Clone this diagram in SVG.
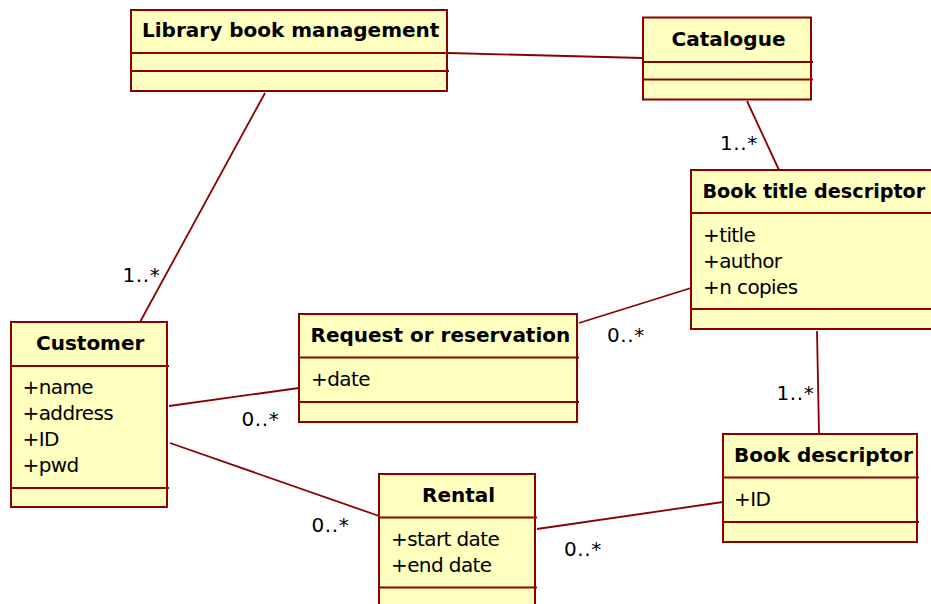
<svg xmlns="http://www.w3.org/2000/svg" width="931" height="604" viewBox="0 0 931 604">
<style>
.box{fill:#ffffc0;stroke:#880000;stroke-width:2}
.div{stroke:#880000;stroke-width:2;fill:none}
.conn line{stroke:#880000;stroke-width:1.8}
.t{font-family:"DejaVu Sans",Verdana,sans-serif;font-weight:bold;font-size:20px;fill:#000}
.a{font-family:"DejaVu Sans",Verdana,sans-serif;font-size:20px;letter-spacing:-0.6px;fill:#000}
.m{font-family:"DejaVu Sans",Verdana,sans-serif;font-size:20px;letter-spacing:0.6px;fill:#000}
</style>
<rect width="931" height="604" fill="#fff"/>
<g id="connectors" class="conn">
<line x1="449" y1="53" x2="643" y2="58"/>
<line x1="265" y1="93" x2="140" y2="322"/>
<line x1="747" y1="101" x2="779" y2="170"/>
<line x1="169" y1="406" x2="299" y2="388"/>
<line x1="579" y1="323" x2="691" y2="288"/>
<line x1="170" y1="443" x2="379" y2="516"/>
<line x1="537" y1="529" x2="723" y2="502"/>
<line x1="817" y1="331" x2="819" y2="434"/>
</g>
<g id="labels">
<text class="m" x="122.5" y="282">1..*</text>
<text class="m" x="720" y="150">1..*</text>
<text class="m" x="776.5" y="400">1..*</text>
<text class="m" x="241.5" y="426">0..*</text>
<text class="m" x="607" y="342">0..*</text>
<text class="m" x="311.5" y="532">0..*</text>
<text class="m" x="564" y="556">0..*</text>
</g>
<g id="library">
<rect class="box" x="131" y="10" width="316" height="81"/>
<line class="div" x1="131" y1="53" x2="449" y2="53"/>
<line class="div" x1="131" y1="71" x2="449" y2="71"/>
<text class="t" x="142" y="37">Library book management</text>
</g>
<g id="catalogue">
<rect class="box" x="643" y="17.5" width="168" height="82"/>
<line class="div" x1="643" y1="62" x2="813" y2="62"/>
<line class="div" x1="643" y1="79.5" x2="813" y2="79.5"/>
<text class="t" x="671.5" y="46">Catalogue</text>
</g>
<g id="booktitle">
<rect class="box" x="691" y="170" width="260" height="159"/>
<line class="div" x1="691" y1="213" x2="951" y2="213"/>
<line class="div" x1="691" y1="309" x2="951" y2="309"/>
<text class="t" x="702.5" y="198" style="font-size:19.2px">Book title descriptor</text>
<text class="a" x="703" y="242">+title</text>
<text class="a" x="703" y="268">+author</text>
<text class="a" x="703" y="294">+n copies</text>
</g>
<g id="customer">
<rect class="box" x="11" y="322" width="156" height="185"/>
<line class="div" x1="11" y1="366" x2="169" y2="366"/>
<line class="div" x1="11" y1="488" x2="169" y2="488"/>
<text class="t" x="36" y="350">Customer</text>
<text class="a" x="22.5" y="394">+name</text>
<text class="a" x="22.5" y="420">+address</text>
<text class="a" x="22.5" y="446">+ID</text>
<text class="a" x="22.5" y="472">+pwd</text>
</g>
<g id="request">
<rect class="box" x="299" y="314" width="278" height="108"/>
<line class="div" x1="299" y1="357.5" x2="579" y2="357.5"/>
<line class="div" x1="299" y1="402" x2="579" y2="402"/>
<text class="t" x="310.5" y="342">Request or reservation</text>
<text class="a" x="311" y="386">+date</text>
</g>
<g id="rental">
<rect class="box" x="379" y="474" width="156" height="150"/>
<line class="div" x1="379" y1="517.5" x2="537" y2="517.5"/>
<line class="div" x1="379" y1="587.5" x2="537" y2="587.5"/>
<text class="t" x="422" y="502">Rental</text>
<text class="a" x="391" y="546">+start date</text>
<text class="a" x="391" y="572">+end date</text>
</g>
<g id="bookdescriptor">
<rect class="box" x="723" y="434" width="194" height="108"/>
<line class="div" x1="723" y1="477.5" x2="919" y2="477.5"/>
<line class="div" x1="723" y1="522" x2="919" y2="522"/>
<text class="t" x="734" y="462">Book descriptor</text>
<text class="a" x="734" y="506">+ID</text>
</g>
</svg>
